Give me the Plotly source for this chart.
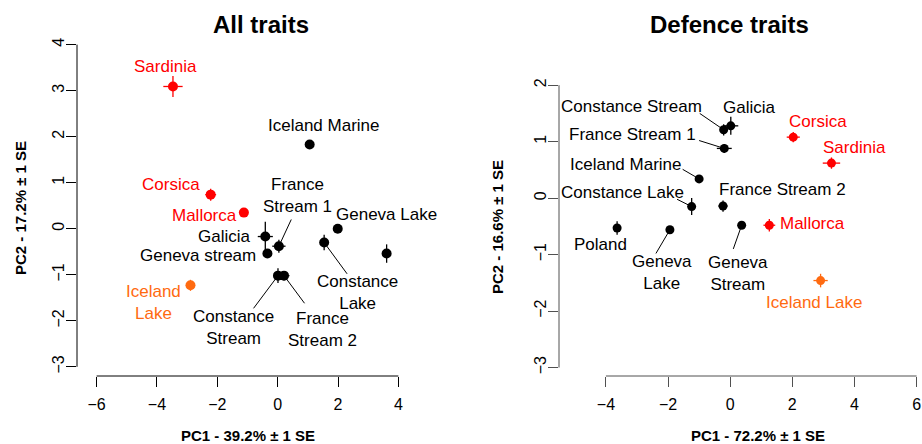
import plotly.graph_objects as go

# ---------------- data: All traits ----------------
names_all = ["Sardinia", "Corsica", "Mallorca", "Iceland Lake", "Iceland Marine",
             "France Stream 1", "Galicia", "Geneva stream", "Geneva Lake",
             "Constance Lake", "Poland", "Constance Stream", "France Stream 2"]
pc1_all = [-3.47, -2.22, -1.12, -2.89, 1.06, 0.04, -0.41, -0.34, 1.99, 1.54, 3.61, 0.01, 0.21]
pc2_all = [3.09, 0.74, 0.35, -1.23, 1.83, -0.38, -0.17, -0.54, 0.00, -0.30, -0.54, -1.02, -1.02]
se1_all = [0.32, 0.18, 0.12, 0.15, 0.06, 0.22, 0.25, 0.06, 0.06, 0.10, 0.08, 0.15, 0.18]
se2_all = [0.23, 0.13, 0.08, 0.12, 0.06, 0.14, 0.32, 0.06, 0.05, 0.17, 0.20, 0.16, 0.10]
group_all = ["island", "island", "island", "iceland", "other", "other", "other", "other",
             "other", "other", "other", "other", "other"]

# label text and label positions (data units) for All traits
text_all = ["Sardinia", "Corsica", "Mallorca", "Iceland<br>Lake", "Iceland Marine",
            "France<br>Stream 1", "Galicia", "Geneva stream", "Geneva Lake",
            "Constance<br>Lake", "Poland", "Constance<br>Stream", "France<br>Stream 2"]
labx_all = [-3.73, -3.52, -2.44, -4.13, 1.55, 0.66, -1.76, -2.64, 3.60, 2.66, 5.00, -1.45, 1.48]
laby_all = [3.53, 0.96, 0.28, -1.60, 2.24, 0.72, -0.17, -0.59, 0.30, -1.38, -0.81, -2.15, -2.20]
# leader line far ends (None = no leader)
leadx_all = [None, None, None, None, None, 0.45, None, None, None, 2.30, None, -0.80, 0.89]
leady_all = [None, None, None, None, None, 0.20, None, None, None, -0.98, None, -1.73, -1.62]

# ---------------- data: Defence traits ----------------
names_def = ["Constance Stream", "Galicia", "France Stream 1", "Iceland Marine",
             "Constance Lake", "France Stream 2", "Poland", "Geneva Lake",
             "Geneva Stream", "Mallorca", "Corsica", "Sardinia", "Iceland Lake"]
pc1_def = [-0.21, 0.02, -0.19, -1.00, -1.24, -0.23, -3.64, -1.94, 0.37, 1.26, 2.03, 3.26, 2.91]
pc2_def = [1.21, 1.28, 0.88, 0.34, -0.15, -0.14, -0.53, -0.56, -0.48, -0.48, 1.08, 0.62, -1.46]
se1_def = [0.10, 0.24, 0.24, 0.08, 0.10, 0.15, 0.08, 0.06, 0.06, 0.19, 0.21, 0.28, 0.23]
se2_def = [0.10, 0.16, 0.08, 0.06, 0.15, 0.10, 0.12, 0.05, 0.05, 0.11, 0.09, 0.10, 0.12]
group_def = ["other", "other", "other", "other", "other", "other", "other", "other",
             "other", "island", "island", "island", "iceland"]

text_def = ["Constance Stream", "Galicia", "France Stream 1", "Iceland Marine",
            "Constance Lake", "France Stream 2", "Poland", "Geneva<br>Lake",
            "Geneva<br>Stream", "Mallorca", "Corsica", "Sardinia", "Iceland Lake"]
labx_def = [-3.19, 0.62, -3.15, -3.36, -3.47, 1.68, -4.19, -2.18, 0.25, 2.65, 2.83, 3.99, 2.71]
laby_def = [1.62, 1.61, 1.12, 0.59, 0.10, 0.16, -0.82, -1.31, -1.34, -0.45, 1.36, 0.90, -1.84]
leadx_def = [-0.98, None, -1.00, -1.53, -1.71, None, None, -2.39, 0.10, None, None, None, None]
leady_def = [1.50, None, 1.02, 0.51, -0.02, None, None, -0.98, -0.90, None, None, None, None]

xticks_all = [-6, -4, -2, 0, 2, 4]
yticks_all = [-3, -2, -1, 0, 1, 2, 3, 4]
xticks_def = [-4, -2, 0, 2, 4, 6]
yticks_def = [-3, -2, -1, 0, 1, 2]

titles = ["All traits", "Defence traits"]
xtitles = ["PC1 - 39.2% \u00b1 1 SE", "PC1 - 72.2% \u00b1 1 SE"]
ytitles = ["PC2 - 17.2% \u00b1 1 SE", "PC2 - 16.6% \u00b1 1 SE"]

# ---------------- styling ----------------
W, H = 922, 444
FONT = "Liberation Sans, Arial, Helvetica, sans-serif"
COLORS = {"island": "#FF0000", "iceland": "#FF6A10", "other": "#000000"}


def px(x):
    return x / W


def py(y):
    return 1 - y / H


fig = go.Figure()

panels = [
    dict(names=names_all, x=pc1_all, y=pc2_all, ex=se1_all, ey=se2_all, grp=group_all,
         text=text_all, lx=labx_all, ly=laby_all, ldx=leadx_all, ldy=leady_all,
         xa="x", ya="y", msize=10, axcol="#000000"),
    dict(names=names_def, x=pc1_def, y=pc2_def, ex=se1_def, ey=se2_def, grp=group_def,
         text=text_def, lx=labx_def, ly=laby_def, ldx=leadx_def, ldy=leady_def,
         xa="x2", ya="y2", msize=9, axcol="#505050"),
]

annotations = []
for p in panels:
    # leader lines
    lxs, lys = [], []
    for i in range(len(p["names"])):
        if p["ldx"][i] is not None:
            lxs += [p["ldx"][i], p["x"][i], None]
            lys += [p["ldy"][i], p["y"][i], None]
    fig.add_trace(go.Scatter(x=lxs, y=lys, mode="lines", xaxis=p["xa"], yaxis=p["ya"],
                             line=dict(color="black", width=1), showlegend=False,
                             hoverinfo="skip", cliponaxis=False))
    for g in ["other", "island", "iceland"]:
        idx = [i for i, gg in enumerate(p["grp"]) if gg == g]
        col = COLORS[g]
        fig.add_trace(go.Scatter(
            x=[p["x"][i] for i in idx], y=[p["y"][i] for i in idx],
            mode="markers", xaxis=p["xa"], yaxis=p["ya"],
            marker=dict(color=col, size=p["msize"], line=dict(width=0)),
            error_x=dict(type="data", array=[p["ex"][i] for i in idx], color=col,
                         thickness=1.3, width=0),
            error_y=dict(type="data", array=[p["ey"][i] for i in idx], color=col,
                         thickness=1.3, width=0),
            text=[p["names"][i] for i in idx], hoverinfo="text",
            showlegend=False, cliponaxis=False))
    for i in range(len(p["names"])):
        annotations.append(dict(
            x=p["lx"][i], y=p["ly"][i], xref=p["xa"], yref=p["ya"],
            text=p["text"][i], showarrow=False,
            font=dict(family=FONT, size=17, color=COLORS[p["grp"][i]]),
            xanchor="center", yanchor="middle", align="center"))

# titles and axis titles (pixel placed)
title_pos = [(260.5, 25), (729, 25)]
xtitle_pos = [(247.5, 435), (758.3, 435)]
ytitle_pos = [(20, 208), (497, 227)]
for k in range(2):
    annotations.append(dict(x=px(title_pos[k][0]), y=py(title_pos[k][1]), xref="paper",
                            yref="paper", text="<b>%s</b>" % titles[k], showarrow=False,
                            font=dict(family=FONT, size=24, color="black"),
                            xanchor="center", yanchor="middle"))
    annotations.append(dict(x=px(xtitle_pos[k][0]), y=py(xtitle_pos[k][1]), xref="paper",
                            yref="paper", text="<b>%s</b>" % xtitles[k], showarrow=False,
                            font=dict(family=FONT, size=15, color="black"),
                            xanchor="center", yanchor="middle"))
    annotations.append(dict(x=px(ytitle_pos[k][0]), y=py(ytitle_pos[k][1]), xref="paper",
                            yref="paper", text="<b>%s</b>" % ytitles[k], showarrow=False,
                            textangle=-90,
                            font=dict(family=FONT, size=15, color="black"),
                            xanchor="center", yanchor="middle"))

ydom = [py(376), py(40)]
common = dict(showgrid=False, zeroline=False, showline=False, ticks="outside", ticklen=10,
              tickwidth=1, automargin=False, fixedrange=True,
              tickfont=dict(family=FONT, size=16, color="black"))

fig.update_layout(
    width=W, height=H, margin=dict(l=0, r=0, t=0, b=0),
    paper_bgcolor="white", plot_bgcolor="white", showlegend=False,
    xaxis=dict(domain=[px(77), px(418)], range=[-6.65, 4.65], tickvals=xticks_all,
               anchor="y", tickcolor="#000000", ticklabelstandoff=4, **common),
    yaxis=dict(domain=ydom, range=[-3.2, 4.10], tickvals=yticks_all, anchor="x",
               tickangle=-90, tickcolor="#000000", ticklabelstandoff=-4, **common),
    xaxis2=dict(domain=[px(559), px(920)], range=[-5.51, 6.11], tickvals=xticks_def,
                anchor="y2", tickcolor="#505050", ticklabelstandoff=4, **common),
    yaxis2=dict(domain=ydom, range=[-3.15, 2.80], tickvals=yticks_def, anchor="x2",
                tickangle=-90, tickcolor="#505050", ticklabelstandoff=-4, **common),
    annotations=annotations,
)

# R-style axis lines spanning only first..last tick
shapes = []
for xa, ya, xt, yt, col in [("x", "y", xticks_all, yticks_all, "#000000"),
                            ("x2", "y2", xticks_def, yticks_def, "#505050")]:
    shapes.append(dict(type="line", xref=xa + " domain", yref=ya, x0=0, x1=0,
                       y0=min(yt), y1=max(yt), line=dict(color=col, width=1)))
    shapes.append(dict(type="line", xref=xa, yref=ya + " domain", x0=min(xt), x1=max(xt),
                       y0=0, y1=0, line=dict(color=col, width=1)))
fig.update_layout(shapes=shapes)

fig.write_html("out.html", config={"displayModeBar": False},
               post_script="document.body.style.margin='0';document.body.style.overflow='hidden';")
